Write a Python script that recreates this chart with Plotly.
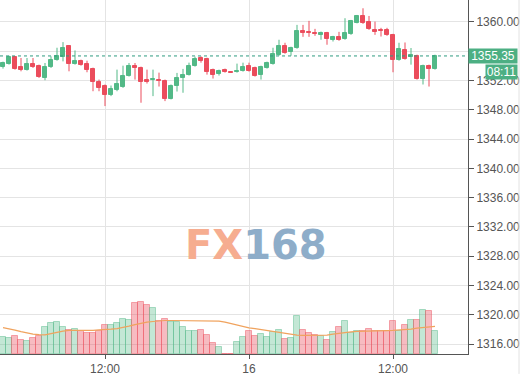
import plotly.graph_objects as go
import pandas as pd

# ---- data ----
times = pd.date_range("2018-01-15 03:30", "2018-01-16 15:30", freq="30min")

opens = [1353.82, 1354.30, 1355.15, 1353.89, 1353.48, 1354.30, 1354.02, 1352.35, 1353.79, 1354.74,
         1355.15, 1356.65, 1354.26, 1354.70, 1354.30, 1353.62, 1351.76, 1351.21, 1349.95, 1350.67,
         1351.13, 1352.67, 1353.93, 1353.71, 1352.12, 1352.03, 1352.12, 1351.99, 1349.50, 1351.31,
         1352.35, 1352.80, 1354.02, 1355.11, 1354.98, 1353.48, 1352.94, 1353.48, 1353.21, 1353.21,
         1353.35, 1354.02, 1353.75, 1352.80, 1353.75, 1354.30, 1355.52, 1356.74, 1355.93, 1356.47,
         1358.78, 1358.64, 1358.51, 1358.23, 1358.47, 1357.46, 1357.87, 1357.65, 1358.33, 1359.90,
         1360.81, 1360.04, 1358.91, 1358.91, 1358.91, 1358.23, 1354.84, 1356.20, 1355.25, 1355.38,
         1352.26, 1354.02, 1353.62]
highs = [1354.57, 1355.38, 1355.25, 1355.07, 1355.07, 1355.07, 1354.16, 1354.39, 1355.29, 1356.47,
         1357.24, 1356.74, 1356.10, 1354.84, 1354.70, 1353.75, 1352.12, 1351.45, 1351.31, 1353.48,
         1354.02, 1354.39, 1354.39, 1353.89, 1353.48, 1353.48, 1353.07, 1352.12, 1351.45, 1353.03,
         1353.58, 1354.43, 1355.25, 1355.29, 1355.11, 1353.62, 1353.48, 1353.62, 1353.25, 1354.30,
         1354.43, 1354.43, 1353.89, 1354.02, 1354.57, 1356.47, 1357.56, 1357.15, 1356.61, 1359.59,
         1359.59, 1360.14, 1359.05, 1358.68, 1358.64, 1358.10, 1358.64, 1360.50, 1360.27, 1360.95,
         1361.86, 1360.81, 1360.04, 1359.19, 1359.19, 1358.37, 1357.15, 1357.19, 1356.43, 1355.52,
         1354.16, 1354.16, 1355.52]
lows = [1353.62, 1354.16, 1353.48, 1353.25, 1353.35, 1353.71, 1352.35, 1352.03, 1353.71, 1354.70,
        1354.61, 1353.25, 1354.16, 1354.02, 1353.12, 1350.53, 1350.53, 1348.50, 1349.86, 1350.53,
        1350.99, 1352.53, 1352.12, 1348.96, 1351.58, 1349.86, 1351.17, 1349.18, 1349.41, 1350.49,
        1350.32, 1352.67, 1353.89, 1354.43, 1352.80, 1352.26, 1352.67, 1353.07, 1353.03, 1353.07,
        1353.21, 1353.21, 1352.53, 1352.12, 1353.62, 1354.16, 1355.38, 1355.65, 1355.38, 1356.33,
        1357.96, 1357.96, 1358.10, 1357.56, 1356.88, 1357.32, 1357.42, 1357.56, 1358.23, 1359.80,
        1359.73, 1358.91, 1358.23, 1358.00, 1358.10, 1353.12, 1354.70, 1354.84, 1354.16, 1352.12,
        1351.45, 1351.17, 1353.48]
closes = [1354.36, 1355.25, 1353.62, 1353.48, 1354.26, 1353.79, 1352.44, 1353.85, 1354.74, 1355.29,
          1356.43, 1354.30, 1354.70, 1354.16, 1353.48, 1351.76, 1350.99, 1349.95, 1350.77, 1351.45,
          1352.67, 1354.02, 1353.66, 1351.76, 1351.76, 1352.22, 1351.89, 1349.50, 1351.31, 1352.35,
          1352.80, 1354.02, 1354.98, 1354.70, 1353.21, 1352.80, 1353.35, 1353.21, 1353.07, 1353.35,
          1353.89, 1353.35, 1352.67, 1353.89, 1354.43, 1355.65, 1356.74, 1355.79, 1356.47, 1358.78,
          1358.51, 1358.47, 1358.37, 1358.47, 1357.65, 1357.87, 1357.56, 1358.47, 1360.14, 1360.81,
          1359.90, 1359.01, 1358.68, 1358.78, 1358.23, 1354.84, 1356.29, 1354.98, 1355.52, 1352.22,
          1353.93, 1353.62, 1355.35]
volumes = [1670, 1600, 1770, 1430, 1270, 1600, 1770, 2670, 3100, 3170,
           2670, 2430, 2530, 2270, 2100, 2100, 2330, 2870, 2870, 3100,
           3530, 3370, 5100, 5270, 4930, 4670, 3270, 3500, 3170, 3170,
           2670, 2330, 2330, 2400, 1930, 1100, 670, 0, 0, 1200,
           1670, 2330, 1770, 2000, 1670, 2170, 2430, 1530, 1600, 3870,
           2430, 2100, 1930, 1770, 1430, 2170, 2670, 3270, 2100, 2330,
           2270, 2530, 2330, 2330, 2270, 3270, 2330, 2870, 3430, 3430,
           4430, 4330, 2330]
volume_ma = [2650, 2550, 2400, 2250, 2100, 2000, 1950, 1930, 2050, 2200,
             2300, 2370, 2370, 2330, 2330, 2370, 2430, 2500, 2500, 2550,
             2650, 2800, 2950, 3100, 3200, 3270, 3350, 3370, 3370, 3370,
             3370, 3370, 3370, 3370, 3370, 3350, 3300, 3200, 3050, 2900,
             2750, 2630, 2550, 2450, 2330, 2230, 2130, 2050, 1950, 1900,
             1870, 1870, 1870, 1870, 1900, 2000, 2100, 2170, 2230, 2270,
             2300, 2330, 2350, 2350, 2350, 2370, 2400, 2430, 2500, 2600,
             2670, 2730, 2770]
price_ticks = [1316, 1320, 1324, 1328, 1332, 1336, 1340, 1344, 1348, 1352, 1356, 1360]
price_tick_labels = ["1316.00", "1320.00", "1324.00", "1328.00", "1332.00", "1336.00",
                     "1340.00", "1344.00", "1348.00", "1352.00", "", "1360.00"]
time_ticks = ["2018-01-15 12:00", "2018-01-16 00:00", "2018-01-16 12:00"]
time_tick_labels = ["12:00", "16", "12:00"]
last_price = 1355.35
countdown = "08:11"

UP = "#53b987"
DOWN = "#eb4d5c"
up_flags = [c >= o for o, c in zip(opens, closes)]
vol_fill = ["rgba(83,185,135,0.35)" if u else "rgba(235,77,92,0.38)" for u in up_flags]
vol_line = ["rgba(83,185,135,0.45)" if u else "rgba(235,77,92,0.45)" for u in up_flags]
body_col = [UP if u else DOWN for u in up_flags]
body_base = [min(o, c) for o, c in zip(opens, closes)]
body_len = [max(abs(c - o), 0.05) for o, c in zip(opens, closes)]


def wick_xy(flag):
    xs, ys = [], []
    for t, h, l, u in zip(times, highs, lows, up_flags):
        if u == flag:
            xs += [t, t, None]
            ys += [l, h, None]
    return xs, ys


fig = go.Figure()
fig.add_trace(go.Bar(x=times, y=volumes, yaxis="y2", width=30 * 60 * 1000,
                     marker=dict(color=vol_fill, line=dict(color=vol_line, width=1)),
                     hoverinfo="skip", showlegend=False))
fig.add_trace(go.Scatter(x=times, y=volume_ma, yaxis="y2", mode="lines",
                         line=dict(color="#f0a35e", width=1.2), showlegend=False))
for flag, col in [(True, UP), (False, DOWN)]:
    wx, wy = wick_xy(flag)
    fig.add_trace(go.Scatter(x=wx, y=wy, mode="lines", line=dict(color=col, width=1),
                             hoverinfo="skip", showlegend=False))
fig.add_trace(go.Bar(x=times, y=body_len, base=body_base, width=22 * 60 * 1000,
                     marker=dict(color=body_col, line=dict(color=body_col, width=1)),
                     customdata=list(zip(opens, highs, lows, closes)),
                     hovertemplate="O %{customdata[0]}<br>H %{customdata[1]}<br>L %{customdata[2]}<br>C %{customdata[3]}<extra></extra>",
                     showlegend=False))

fig.update_layout(
    width=521, height=376,
    margin=dict(l=0, r=53, t=0, b=20),
    paper_bgcolor="white", plot_bgcolor="white",
    showlegend=False, barmode="overlay",
    font=dict(family="Liberation Sans, Arial, sans-serif", size=12, color="#555555"),
    xaxis=dict(type="date", range=["2018-01-15 03:15", "2018-01-16 18:15"],
               tickvals=time_ticks, ticktext=time_tick_labels,
               showgrid=True, gridcolor="#e4e4e4", gridwidth=1,
               showline=True, linecolor="#555555", linewidth=1,
               ticks="outside", ticklen=4, tickcolor="#555555",
               zeroline=False, tickfont=dict(size=12, color="#555555")),
    yaxis=dict(side="right", range=[1314.64, 1362.99],
               tickvals=price_ticks, ticktext=price_tick_labels,
               showgrid=True, gridcolor="#e4e4e4", gridwidth=1,
               showline=True, linecolor="#555555", linewidth=1,
               ticks="outside", ticklen=5, tickcolor="#555555",
               zeroline=False, tickfont=dict(size=12, color="#555555")),
    yaxis2=dict(overlaying="y", range=[0, 35600], visible=False, fixedrange=True),
    bargap=0,
)

fig.add_shape(type="line", xref="paper", yref="y", x0=0, x1=1, y0=last_price, y1=last_price,
              line=dict(color="#2f9c80", width=1, dash="dot"))
fig.add_shape(type="line", xref="paper", yref="paper", x0=519 / 468, x1=519 / 468, y0=-20 / 356, y1=1,
              line=dict(color="#e2e2e2", width=1))

fig.add_annotation(xref="paper", yref="y", x=1, y=last_price, xanchor="left", yanchor="middle",
                   text=f"{last_price:.2f}", showarrow=False, width=46, height=12, borderpad=1,
                   bgcolor="#4caf83", font=dict(color="white", size=12))
fig.add_annotation(xref="paper", yref="paper", x=485 / 468, y=1 - 72 / 356, xanchor="left", yanchor="middle",
                   text=countdown, showarrow=False, width=29, height=12, borderpad=1,
                   bgcolor="#4caf83", font=dict(color="white", size=12))
fig.add_annotation(xref="paper", yref="paper", x=256 / 468, y=1 - 246 / 356, xanchor="center", yanchor="middle",
                   text='<b><span style="color:#f6ad90">FX</span><span style="color:#8eadc9">168</span></b>',
                   showarrow=False, font=dict(family="DejaVu Sans", size=40))

fig.write_html("out.html", config={"displayModeBar": False},
               post_script="document.body.style.margin='0px';")
